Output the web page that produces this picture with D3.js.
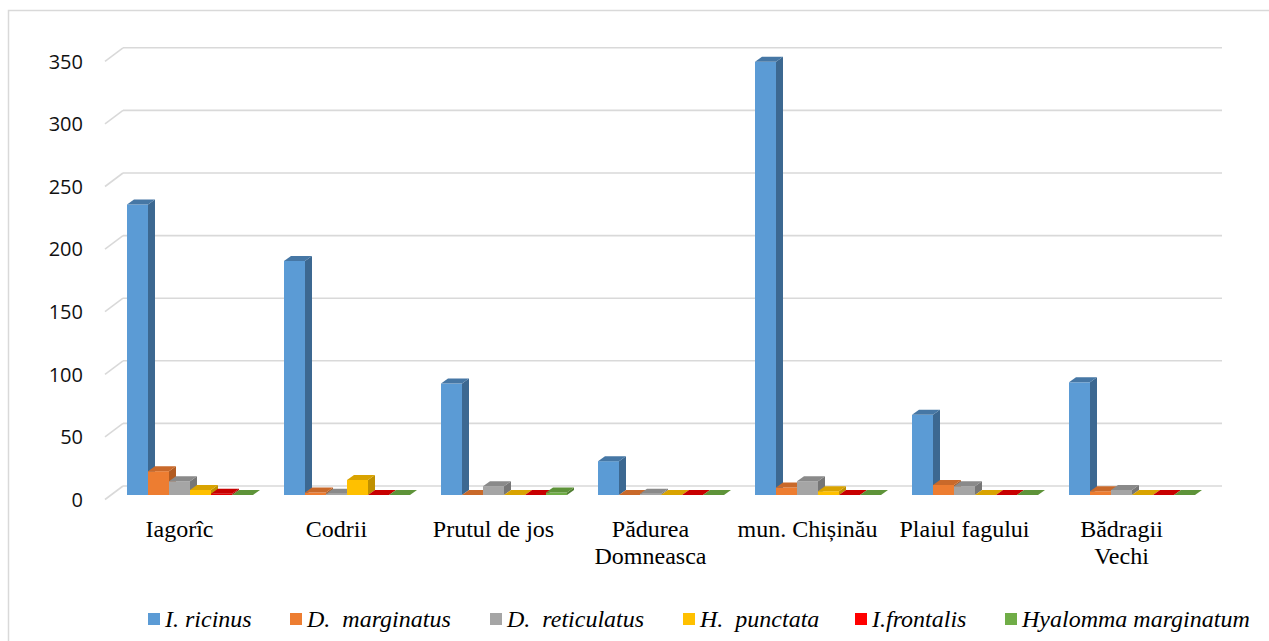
<!DOCTYPE html>
<html>
<head>
<meta charset="utf-8">
<script src="https://cdn.jsdelivr.net/npm/d3@7"></script>
<style>
  body { margin: 0; background: #fff; }
  svg { display: block; }
</style>
</head>
<body>
<svg width="1269" height="641"></svg>
<script>
// categories (lines of each label)
const categories = ["Iagorîc", "Codrii", "Prutul de jos", "Pădurea Domneasca", "mun. Chișinău", "Plaiul fagului", "Bădragii Vechi"];
const categoryLines = [["Iagorîc"], ["Codrii"], ["Prutul de jos"], ["Pădurea", "Domneasca"], ["mun. Chișinău"], ["Plaiul fagului"], ["Bădragii", "Vechi"]];

// series names + values
const seriesNames = ["I. ricinus", "D.  marginatus", "D.  reticulatus", "H.  punctata", "I.frontalis", "Hyalomma marginatum"];
const iRicinus     = [232, 187, 89, 27, 346, 64, 90];
const dMarginatus  = [19, 2, 0, 0, 6, 8, 3];
const dReticulatus = [11, 1, 7, 1, 11, 7, 4];
const hPunctata    = [4, 12, 0, 0, 3, 0, 0];
const iFrontalis   = [1, 0, 0, 0, 0, 0, 0];
const hyalomma     = [0, 0, 2, 0, 0, 0, 0];
const seriesValues = [iRicinus, dMarginatus, dReticulatus, hPunctata, iFrontalis, hyalomma];

const yTicks = [0, 50, 100, 150, 200, 250, 300, 350];

// colours: front / side / top
const colors = [
  { front: "#5b9bd5", side: "#3c6891", top: "#4677a5", legend: "#5b9bd5" },
  { front: "#ed7d31", side: "#b25c22", top: "#c9692a", legend: "#ed7d31" },
  { front: "#a5a5a5", side: "#767676", top: "#8a8a8a", legend: "#a5a5a5" },
  { front: "#ffc000", side: "#bf9000", top: "#d9a300", legend: "#ffc000" },
  { front: "#e00000", side: "#a80000", top: "#c80000", legend: "#ff0000" },
  { front: "#70ad47", side: "#4f7d31", top: "#5e9339", legend: "#70ad47" }
];

const svg = d3.select("svg");

// chart border
svg.append("rect")
  .attr("x", 8.5).attr("y", 10.5)
  .attr("width", 1400).attr("height", 800)
  .attr("fill", "none").attr("stroke", "#d9d9d9").attr("stroke-width", 1.5);

// scales: front edge of floor, back wall, bars (mid depth)
const yFront = d3.scaleLinear().domain([0, 350]).range([499.5, 61.3]);
const yBack  = d3.scaleLinear().domain([0, 350]).range([486, 47.8]);
const yBar   = d3.scaleLinear().domain([0, 350]).range([495, 56.8]);

const x = d3.scaleBand().domain(categories).range([101, 1200]);
const xs = d3.scaleBand().domain(seriesNames).range([26, 152]);

const depthX = 7, depthY = 5;

// gridlines (back wall + left wall diagonals)
const grid = svg.append("g");
yTicks.forEach(v => {
  grid.append("line")
    .attr("x1", 123).attr("x2", 1222)
    .attr("y1", yBack(v)).attr("y2", yBack(v))
    .attr("stroke", "#d9d9d9").attr("stroke-width", 1.6);
  grid.append("line")
    .attr("x1", 105).attr("y1", yFront(v))
    .attr("x2", 123).attr("y2", yBack(v))
    .attr("stroke", "#d9d9d9").attr("stroke-width", 1.6);
});

// y tick labels
svg.append("g").selectAll("text")
  .data(yTicks).enter().append("text")
  .attr("x", 83)
  .attr("y", d => yFront(d))
  .attr("dy", "0.36em")
  .attr("text-anchor", "end")
  .attr("font-family", "'Open Sans', 'Liberation Sans', sans-serif")
  .attr("font-size", 20)
  .attr("fill", "#111")
  .text(d => d);

// bars
const bars = svg.append("g");
categories.forEach((c, ci) => {
  seriesNames.forEach((s, si) => {
    const v = seriesValues[si][ci];
    const col = colors[si];
    const x0 = x(c) + xs(s), w = xs.bandwidth();
    const yt = yBar(v), yb = yBar(0);
    const g = bars.append("g");
    if (v > 0) {
      g.append("rect")
        .attr("x", x0).attr("y", yt)
        .attr("width", w).attr("height", yb - yt)
        .attr("fill", col.front);
      g.append("path")
        .attr("d", `M${x0 + w},${yt} L${x0 + w + depthX},${yt - depthY} L${x0 + w + depthX},${yb - depthY} L${x0 + w},${yb} Z`)
        .attr("fill", col.side);
    }
    g.append("path")
      .attr("d", `M${x0},${yt} L${x0 + depthX},${yt - depthY} L${x0 + w + depthX},${yt - depthY} L${x0 + w},${yt} Z`)
      .attr("fill", col.top);
  });
});

// category labels
const catG = svg.append("g");
categories.forEach((c, ci) => {
  const t = catG.append("text")
    .attr("x", x(c) + x.bandwidth() / 2)
    .attr("y", 537)
    .attr("text-anchor", "middle")
    .attr("font-family", "'Liberation Serif', 'Times New Roman', serif")
    .attr("font-size", 24)
    .attr("fill", "#000");
  categoryLines[ci].forEach((line, li) => {
    t.append("tspan")
      .attr("x", x(c) + x.bandwidth() / 2)
      .attr("dy", li === 0 ? 0 : 27)
      .text(line);
  });
});

// legend
const legendX = [148, 290, 490, 683, 855, 1005];
const legend = svg.append("g");
seriesNames.forEach((s, si) => {
  legend.append("rect")
    .attr("x", legendX[si]).attr("y", 613)
    .attr("width", 12).attr("height", 12)
    .attr("fill", colors[si].legend);
  legend.append("text")
    .attr("x", legendX[si] + 17).attr("y", 627)
    .attr("font-family", "'Liberation Serif', 'Times New Roman', serif")
    .attr("font-style", "italic")
    .attr("font-size", 24)
    .attr("fill", "#000")
    .attr("xml:space", "preserve")
    .style("white-space", "pre")
    .text(s);
});
</script>
</body>
</html>
